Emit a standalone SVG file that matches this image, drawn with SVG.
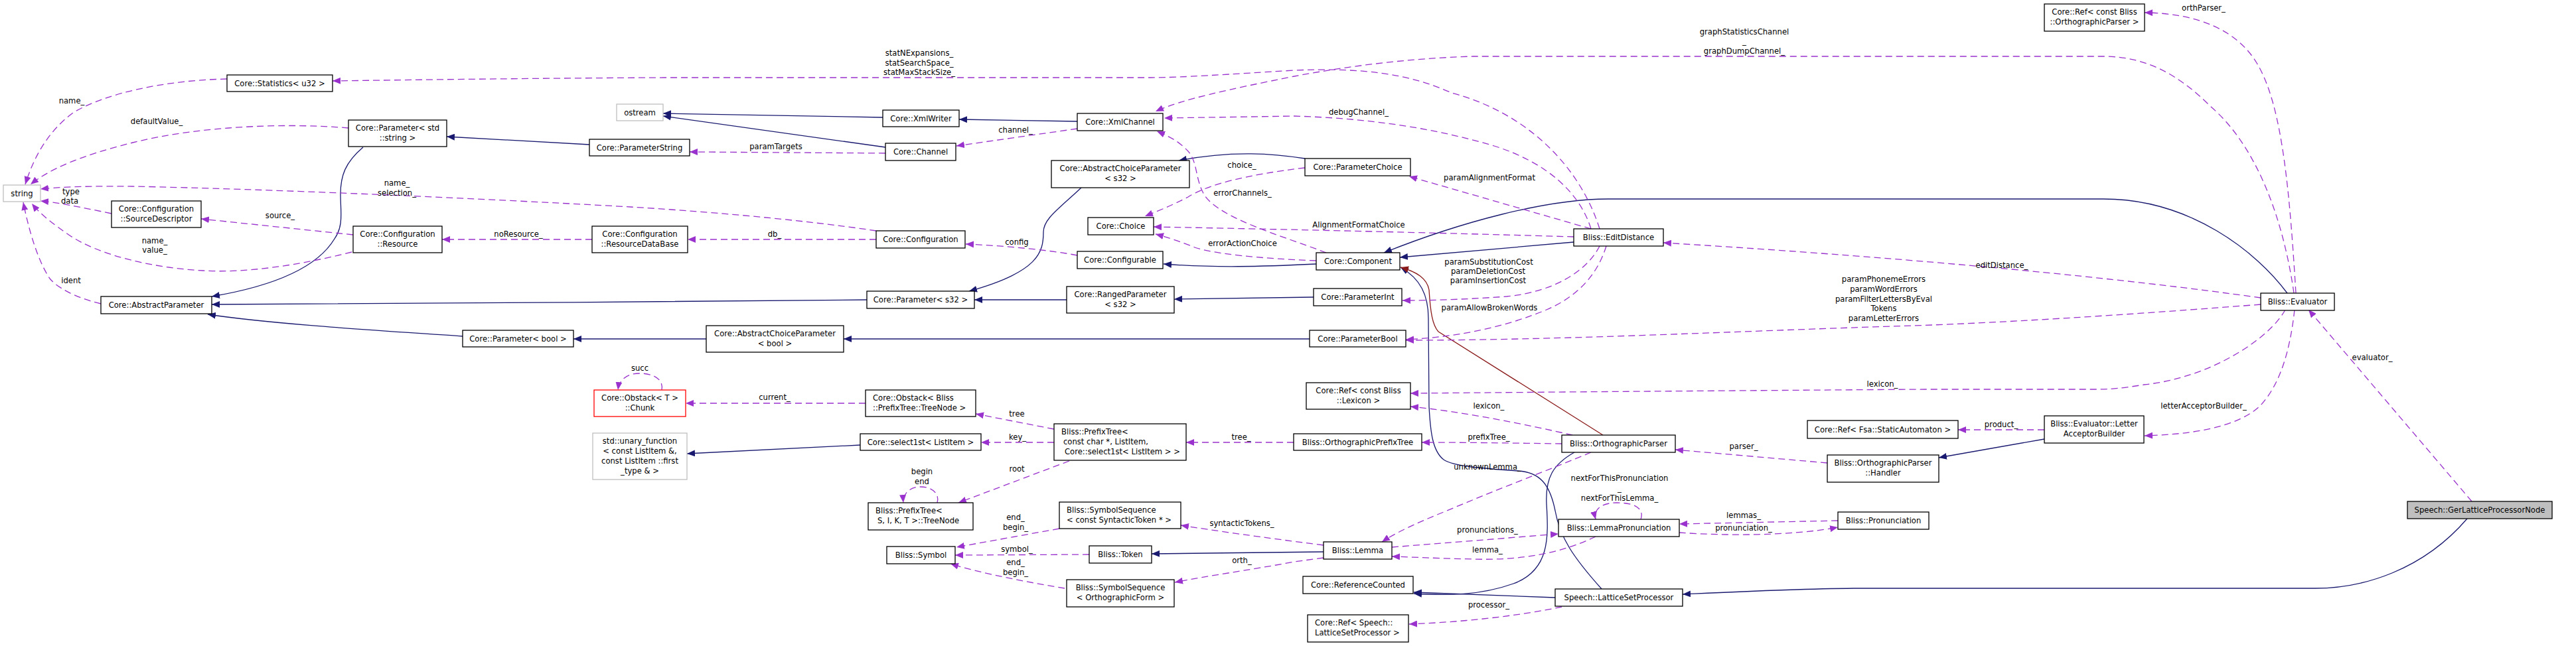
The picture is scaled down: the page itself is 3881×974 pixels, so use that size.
<svg xmlns="http://www.w3.org/2000/svg" width="3881" height="974" viewBox="0 0 3881 974">
<style>
text{font-family:"DejaVu Sans","Liberation Sans",sans-serif;font-size:11.6px;fill:#000}
.n rect{fill:#fff;stroke:#000;stroke-width:1.3}
.n.g rect{stroke:#bfbfbf}
.n.red rect{stroke:#ff0000}
.n.hl rect{fill:#bfbfbf}
.n text{text-anchor:middle}
.n text.lf{text-anchor:start}
.lbl text{text-anchor:middle}
.s{fill:none;stroke:#191970;stroke-width:1.3}
.r{fill:none;stroke:#8b1a1a;stroke-width:1.3}
.d{fill:none;stroke:#9a32cd;stroke-width:1.3;stroke-dasharray:10,6}
</style>
<defs>
<marker id="ab" markerUnits="userSpaceOnUse" markerWidth="13" markerHeight="10" refX="12" refY="5" orient="auto"><path d="M0,0L12,5L0,10z" fill="#191970"/></marker>
<marker id="ar" markerUnits="userSpaceOnUse" markerWidth="13" markerHeight="10" refX="12" refY="5" orient="auto"><path d="M0,0L12,5L0,10z" fill="#8b1a1a"/></marker>
<marker id="ad" markerUnits="userSpaceOnUse" markerWidth="13" markerHeight="10" refX="12" refY="5" orient="auto"><path d="M0,0L12,5L0,10z" fill="#9a32cd"/></marker>
</defs>
<rect x="0" y="0" width="3881" height="974" fill="#fff"/>
<g id="connectors">
<g marker-end="url(#ab)">
<path class="s" d="M1330,177L999,171"/>
<path class="s" d="M1334,222L999,175"/>
<path class="s" d="M1623,183L1445,180"/>
<path class="s" d="M888,218L673,206"/>
<path class="s" d="M547,222C520,245 513,265 513,293C513,320 518,340 504,360C480,400 420,430 319,447"/>
<path class="s" d="M1306,452C1000,455 600,458 319,459"/>
<path class="s" d="M697,507C600,500 420,490 313,474"/>
<path class="s" d="M1629,283C1595,315 1572,330 1572,350C1572,380 1565,410 1460,439"/>
<path class="s" d="M1607,452L1468,452"/>
<path class="s" d="M1064,511L864,511"/>
<path class="s" d="M1966,239C1920,232 1860,226 1776,242"/>
<path class="s" d="M1979,448L1769,451"/>
<path class="s" d="M1973,511L1271,511"/>
<path class="s" d="M1983,398C1900,402 1830,404 1753,398"/>
<path class="s" d="M2371,365L2109,388"/>
<path class="s" d="M3446,442C3400,380 3300,300 3169,300L2423,300C2330,300 2200,335 2085,381"/>
<path class="s" d="M2372,682C2340,700 2328,720 2330,760C2333,810 2335,860 2280,880C2230,898 2180,898 2130,895"/>
<path class="s" d="M2343,901C2250,898 2180,895 2130,893"/>
<path class="s" d="M2413,888C2370,840 2350,810 2343,770C2335,730 2320,712 2287,710C2230,706 2190,703 2175,693C2158,680 2155,650 2153,613L2152,480C2152,445 2140,420 2110,403"/>
<path class="s" d="M3717,782C3650,860 3560,887 3488,887L2793,887C2700,888 2600,893 2535,896"/>
<path class="s" d="M3080,662L2921,690"/>
<path class="s" d="M1994,832L1735,835"/>
<path class="s" d="M1296,671L1035,684"/>
</g>
<path class="r" marker-end="url(#ar)" d="M2415,656L2167,500C2158,490 2155,470 2153,437C2150,420 2135,410 2110,403"/>
<g marker-end="url(#ad)">
<path class="d" d="M2410,345C2380,250 2300,170 2187,140C2120,110 2050,102 1950,106C1850,112 1780,117 1734,117L1000,117C800,118 650,120 501,122"/>
<path class="d" d="M3456,442C3440,330 3400,220 3330,160C3280,110 3230,85 3169,85L2219,85C2120,88 2030,100 1950,115C1850,135 1780,150 1741,168"/>
<path class="d" d="M2397,345C2380,290 2330,245 2251,220C2150,190 2050,178 1950,175L1754,178"/>
<path class="d" d="M1998,381C1930,355 1840,330 1815,295C1800,270 1805,245 1790,228C1775,212 1760,205 1743,198"/>
<path class="d" d="M1623,194L1441,220"/>
<path class="d" d="M1334,231L1039,229"/>
<path class="d" d="M342,119C250,121 160,140 110,170C70,200 50,240 38,278"/>
<path class="d" d="M525,193C430,185 300,190 200,215C120,235 75,255 46,278"/>
<path class="d" d="M1320,348C1200,330 1050,318 950,312C700,298 400,285 200,281C120,280 80,283 61,285"/>
<path class="d" d="M168,322C120,312 85,305 61,303"/>
<path class="d" d="M530,380C450,400 370,412 306,408C230,404 150,385 105,355C80,338 60,322 48,307"/>
<path class="d" d="M152,458C110,448 85,432 75,420C55,390 42,340 35,305"/>
<path class="d" d="M532,354L303,330"/>
<path class="d" d="M892,361L666,361"/>
<path class="d" d="M1320,361L1036,361"/>
<path class="d" d="M1623,385C1570,375 1500,370 1455,368"/>
<path class="d" d="M997,588C1000,572 985,563 964,563C945,563 933,572 931,588"/>
<path class="d" d="M1304,608L1033,608"/>
<path class="d" d="M1588,647L1470,624"/>
<path class="d" d="M1588,667L1478,667"/>
<path class="d" d="M1611,695L1444,758"/>
<path class="d" d="M1412,758C1416,745 1405,734 1387,734C1370,734 1360,745 1361,758"/>
<path class="d" d="M1949,667L1787,667"/>
<path class="d" d="M1596,797L1441,825"/>
<path class="d" d="M1641,836L1439,837"/>
<path class="d" d="M1604,887C1550,878 1480,865 1432,850"/>
<path class="d" d="M1994,822C1900,810 1830,800 1779,792"/>
<path class="d" d="M1994,841L1950,847C1880,860 1820,868 1770,878"/>
<path class="d" d="M3443,467C3420,510 3330,570 3230,580C3200,585 3180,587 3160,587L2900,587C2600,589 2350,591 2125,593"/>
<path class="d" d="M2369,656C2300,640 2200,620 2125,613"/>
<path class="d" d="M2353,669C2280,668 2200,667 2142,667"/>
<path class="d" d="M2753,698L2524,678"/>
<path class="d" d="M3080,648L2950,648"/>
<path class="d" d="M3457,467C3450,530 3435,580 3405,612C3370,645 3300,655 3231,657"/>
<path class="d" d="M3724,756L3478,467"/>
<path class="d" d="M3459,442C3450,300 3440,160 3400,95C3370,45 3310,20 3231,19"/>
<path class="d" d="M3406,449C3200,420 2900,390 2506,366"/>
<path class="d" d="M3406,459C3200,475 3000,488 2850,492C2600,500 2350,513 2118,513"/>
<path class="d" d="M2420,371C2405,420 2370,450 2330,467C2270,492 2200,508 2118,512"/>
<path class="d" d="M2410,371C2390,410 2340,440 2270,447C2200,452 2150,453 2113,453"/>
<path class="d" d="M2397,345L2123,266"/>
<path class="d" d="M2397,682C2330,710 2250,740 2180,770C2130,790 2100,805 2082,817"/>
<path class="d" d="M2097,825L2348,805"/>
<path class="d" d="M2404,809C2350,835 2290,845 2220,843C2170,842 2130,840 2097,839"/>
<path class="d" d="M2472,783C2478,765 2460,758 2436,758C2413,758 2400,768 2404,783"/>
<path class="d" d="M2769,785L2530,790"/>
<path class="d" d="M2530,803C2600,808 2700,808 2769,795"/>
<path class="d" d="M2353,915C2280,930 2200,938 2123,941"/>
<path class="d" d="M1966,253C1880,263 1820,278 1790,297C1765,310 1745,318 1725,326"/>
<path class="d" d="M2371,357C2200,352 2000,347 1738,342"/>
<path class="d" d="M1983,393C1900,390 1830,383 1800,373C1780,365 1760,358 1741,353"/>
</g>
<g class="lbl">
<text x="1385" y="84">statNExpansions_</text>
<text x="1385" y="99">statSearchSpace_</text>
<text x="1385" y="113">statMaxStackSize_</text>
<text x="2628" y="52">graphStatisticsChannel</text>
<text x="2628" y="66">_</text>
<text x="2628" y="81">graphDumpChannel_</text>
<text x="2047" y="173">debugChannel_</text>
<text x="1872" y="295">errorChannels_</text>
<text x="1530" y="200">channel_</text>
<text x="1169" y="225">paramTargets</text>
<text x="108" y="156">name_</text>
<text x="236" y="187">defaultValue_</text>
<text x="598" y="280">name_</text>
<text x="598" y="295">selection_</text>
<text x="107" y="293">type</text>
<text x="105" y="307">data</text>
<text x="233" y="367">name_</text>
<text x="233" y="381">value_</text>
<text x="107" y="427">ident</text>
<text x="422" y="329">source_</text>
<text x="781" y="357">noResource_</text>
<text x="1167" y="357">db_</text>
<text x="1532" y="369">config</text>
<text x="964" y="559">succ</text>
<text x="1167" y="603">current_</text>
<text x="1532" y="628">tree</text>
<text x="1533" y="663">key_</text>
<text x="1532" y="711">root</text>
<text x="1389" y="715">begin</text>
<text x="1389" y="730">end</text>
<text x="1870" y="663">tree_</text>
<text x="1530" y="784">end_</text>
<text x="1530" y="799">begin_</text>
<text x="1532" y="832">symbol_</text>
<text x="1530" y="852">end_</text>
<text x="1530" y="867">begin_</text>
<text x="1871" y="793">syntacticTokens_</text>
<text x="1871" y="849">orth_</text>
<text x="2836" y="583">lexicon_</text>
<text x="2243" y="616">lexicon_</text>
<text x="2243" y="663">prefixTree_</text>
<text x="2627" y="677">parser_</text>
<text x="3015" y="644">product_</text>
<text x="3320" y="616">letterAcceptorBuilder_</text>
<text x="3574" y="543">evaluator_</text>
<text x="3320" y="16">orthParser_</text>
<text x="3016" y="404">editDistance_</text>
<text x="2838" y="425">paramPhonemeErrors</text>
<text x="2838" y="440">paramWordErrors</text>
<text x="2838" y="455">paramFilterLettersByEval</text>
<text x="2838" y="469">Tokens</text>
<text x="2838" y="484">paramLetterErrors</text>
<text x="2244" y="468">paramAllowBrokenWords</text>
<text x="2243" y="399">paramSubstitutionCost</text>
<text x="2242" y="413">paramDeletionCost</text>
<text x="2242" y="427">paramInsertionCost</text>
<text x="2244" y="272">paramAlignmentFormat</text>
<text x="2241" y="708">unknownLemma_</text>
<text x="2241" y="803">pronunciations_</text>
<text x="2241" y="833">lemma_</text>
<text x="2440" y="725">nextForThisPronunciation</text>
<text x="2440" y="740">_</text>
<text x="2440" y="755">nextForThisLemma_</text>
<text x="2627" y="781">lemmas_</text>
<text x="2627" y="800">pronunciation_</text>
<text x="2243" y="916">processor_</text>
<text x="1871" y="253">choice_</text>
<text x="2047" y="343">AlignmentFormatChoice</text>
<text x="1872" y="371">errorActionChoice</text>
</g>
</g>
<g id="n_ostream" class="n g"><rect x="929" y="157" width="70" height="25"/><text x="964" y="173.5">ostream</text></g>
<g id="n_stats" class="n"><rect x="342" y="113" width="159" height="25"/><text x="421.5" y="129.5">Core::Statistics&lt; u32 &gt;</text></g>
<g id="n_pstr" class="n"><rect x="525" y="181" width="148" height="40"/><text x="599" y="197">Core::Parameter&lt; std</text><text x="599" y="212">::string &gt;</text></g>
<g id="n_pstring" class="n"><rect x="888" y="210" width="151" height="25"/><text x="963.5" y="226.5">Core::ParameterString</text></g>
<g id="n_string" class="n g"><rect x="5" y="279" width="56" height="25"/><text x="33" y="295.5">string</text></g>
<g id="n_srcdesc" class="n"><rect x="168" y="303" width="135" height="40"/><text x="235.5" y="319">Core::Configuration</text><text x="235.5" y="334">::SourceDescriptor</text></g>
<g id="n_resource" class="n"><rect x="532" y="341" width="134" height="40"/><text x="599" y="357">Core::Configuration</text><text x="599" y="372">::Resource</text></g>
<g id="n_resdb" class="n"><rect x="892" y="341" width="144" height="40"/><text x="964" y="357">Core::Configuration</text><text x="964" y="372">::ResourceDataBase</text></g>
<g id="n_absparam" class="n"><rect x="152" y="447" width="167" height="26"/><text x="235.5" y="464">Core::AbstractParameter</text></g>
<g id="n_pbool" class="n"><rect x="697" y="498" width="167" height="25"/><text x="780.5" y="514.5">Core::Parameter&lt; bool &gt;</text></g>
<g id="n_chunk" class="n red"><rect x="895" y="588" width="138" height="40"/><text x="964" y="604">Core::Obstack&lt; T &gt;</text><text x="964" y="619">::Chunk</text></g>
<g id="n_unary" class="n g"><rect x="893" y="653" width="142" height="70"/><text x="964" y="668.5">std::unary_function</text><text x="964" y="683.5">&lt; const ListItem &amp;,</text><text x="964" y="698.5">const ListItem ::first</text><text x="964" y="713.5">_type &amp; &gt;</text></g>
<g id="n_xmlwriter" class="n"><rect x="1330" y="166" width="115" height="25"/><text x="1387.5" y="182.5">Core::XmlWriter</text></g>
<g id="n_xmlchannel" class="n"><rect x="1623" y="171" width="129" height="26"/><text x="1687.5" y="188">Core::XmlChannel</text></g>
<g id="n_channel" class="n"><rect x="1334" y="216" width="106" height="26"/><text x="1387" y="233">Core::Channel</text></g>
<g id="n_acps32" class="n"><rect x="1584" y="242" width="208" height="41"/><text x="1688" y="258">Core::AbstractChoiceParameter</text><text x="1688" y="273">&lt; s32 &gt;</text></g>
<g id="n_choice" class="n"><rect x="1639" y="328" width="99" height="26"/><text x="1688.5" y="345">Core::Choice</text></g>
<g id="n_config" class="n"><rect x="1320" y="348" width="134" height="26"/><text x="1387" y="365">Core::Configuration</text></g>
<g id="n_configurable" class="n"><rect x="1623" y="379" width="129" height="26"/><text x="1687.5" y="396">Core::Configurable</text></g>
<g id="n_ps32" class="n"><rect x="1306" y="439" width="162" height="26"/><text x="1387" y="456">Core::Parameter&lt; s32 &gt;</text></g>
<g id="n_ranged" class="n"><rect x="1607" y="432" width="162" height="40"/><text x="1688" y="448">Core::RangedParameter</text><text x="1688" y="463">&lt; s32 &gt;</text></g>
<g id="n_acpbool" class="n"><rect x="1064" y="491" width="207" height="40"/><text x="1167.5" y="507">Core::AbstractChoiceParameter</text><text x="1167.5" y="522">&lt; bool &gt;</text></g>
<g id="n_obstackb" class="n"><rect x="1304" y="588" width="166" height="40"/><text class="lf" x="1315" y="604">Core::Obstack&lt; Bliss</text><text class="lf" x="1315" y="619">::PrefixTree::TreeNode &gt;</text></g>
<g id="n_select1st" class="n"><rect x="1296" y="654" width="182" height="25"/><text x="1387" y="670.5">Core::select1st&lt; ListItem &gt;</text></g>
<g id="n_prefixtree" class="n"><rect x="1588" y="639" width="199" height="55"/><text class="lf" x="1599" y="655">Bliss::PrefixTree&lt;</text><text class="lf" x="1602" y="670">const char *, ListItem,</text><text class="lf" x="1604" y="685">Core::select1st&lt; ListItem &gt; &gt;</text></g>
<g id="n_treenode" class="n"><rect x="1308" y="758" width="158" height="41"/><text class="lf" x="1319" y="774">Bliss::PrefixTree&lt;</text><text class="lf" x="1322" y="789">S, I, K, T &gt;::TreeNode</text></g>
<g id="n_ssst" class="n"><rect x="1596" y="757" width="183" height="40"/><text class="lf" x="1607" y="773">Bliss::SymbolSequence</text><text class="lf" x="1607" y="788">&lt; const SyntacticToken * &gt;</text></g>
<g id="n_symbol" class="n"><rect x="1336" y="824" width="103" height="26"/><text x="1387.5" y="841">Bliss::Symbol</text></g>
<g id="n_token" class="n"><rect x="1641" y="823" width="94" height="26"/><text x="1688" y="840">Bliss::Token</text></g>
<g id="n_ssof" class="n"><rect x="1607" y="874" width="162" height="41"/><text x="1688" y="890">Bliss::SymbolSequence</text><text x="1688" y="905">&lt; OrthographicForm &gt;</text></g>
<g id="n_pchoice" class="n"><rect x="1966" y="239" width="159" height="26"/><text x="2045.5" y="256">Core::ParameterChoice</text></g>
<g id="n_editdist" class="n"><rect x="2371" y="345" width="135" height="26"/><text x="2438.5" y="362">Bliss::EditDistance</text></g>
<g id="n_component" class="n"><rect x="1983" y="381" width="126" height="26"/><text x="2046" y="398">Core::Component</text></g>
<g id="n_pint" class="n"><rect x="1979" y="435" width="133" height="26"/><text x="2045.5" y="452">Core::ParameterInt</text></g>
<g id="n_pbool2" class="n"><rect x="1973" y="498" width="145" height="25"/><text x="2045.5" y="514.5">Core::ParameterBool</text></g>
<g id="n_reflex" class="n"><rect x="1968" y="577" width="157" height="40"/><text x="2046.5" y="593">Core::Ref&lt; const Bliss</text><text x="2046.5" y="608">::Lexicon &gt;</text></g>
<g id="n_opt" class="n"><rect x="1949" y="654" width="193" height="25"/><text x="2045.5" y="670.5">Bliss::OrthographicPrefixTree</text></g>
<g id="n_op" class="n"><rect x="2353" y="656" width="171" height="26"/><text x="2438.5" y="673">Bliss::OrthographicParser</text></g>
<g id="n_reffsa" class="n"><rect x="2723" y="634" width="227" height="27"/><text x="2836.5" y="651.5">Core::Ref&lt; Fsa::StaticAutomaton &gt;</text></g>
<g id="n_handler" class="n"><rect x="2753" y="686" width="168" height="41"/><text x="2837" y="702">Bliss::OrthographicParser</text><text x="2837" y="717">::Handler</text></g>
<g id="n_lp" class="n"><rect x="2348" y="783" width="182" height="26"/><text x="2439" y="800">Bliss::LemmaPronunciation</text></g>
<g id="n_pron" class="n"><rect x="2769" y="772" width="137" height="26"/><text x="2837.5" y="789">Bliss::Pronunciation</text></g>
<g id="n_lemma" class="n"><rect x="1994" y="817" width="103" height="26"/><text x="2045.5" y="834">Bliss::Lemma</text></g>
<g id="n_refcount" class="n"><rect x="1963" y="869" width="166" height="26"/><text x="2046" y="886">Core::ReferenceCounted</text></g>
<g id="n_lsp" class="n"><rect x="2343" y="888" width="192" height="26"/><text x="2439" y="905">Speech::LatticeSetProcessor</text></g>
<g id="n_reflsp" class="n"><rect x="1970" y="927" width="152" height="41"/><text class="lf" x="1981" y="943">Core::Ref&lt; Speech::</text><text class="lf" x="1981" y="958">LatticeSetProcessor &gt;</text></g>
<g id="n_refop" class="n"><rect x="3080" y="6" width="151" height="41"/><text x="3155.5" y="22">Core::Ref&lt; const Bliss</text><text x="3155.5" y="37">::OrthographicParser &gt;</text></g>
<g id="n_evaluator" class="n"><rect x="3406" y="442" width="111" height="26"/><text x="3461.5" y="459">Bliss::Evaluator</text></g>
<g id="n_lab" class="n"><rect x="3080" y="627" width="150" height="41"/><text x="3155" y="643">Bliss::Evaluator::Letter</text><text x="3155" y="658">AcceptorBuilder</text></g>
<g id="n_glpn" class="n hl"><rect x="3627" y="756" width="218" height="26"/><text x="3736" y="773">Speech::GerLatticeProcessorNode</text></g>
</svg>
